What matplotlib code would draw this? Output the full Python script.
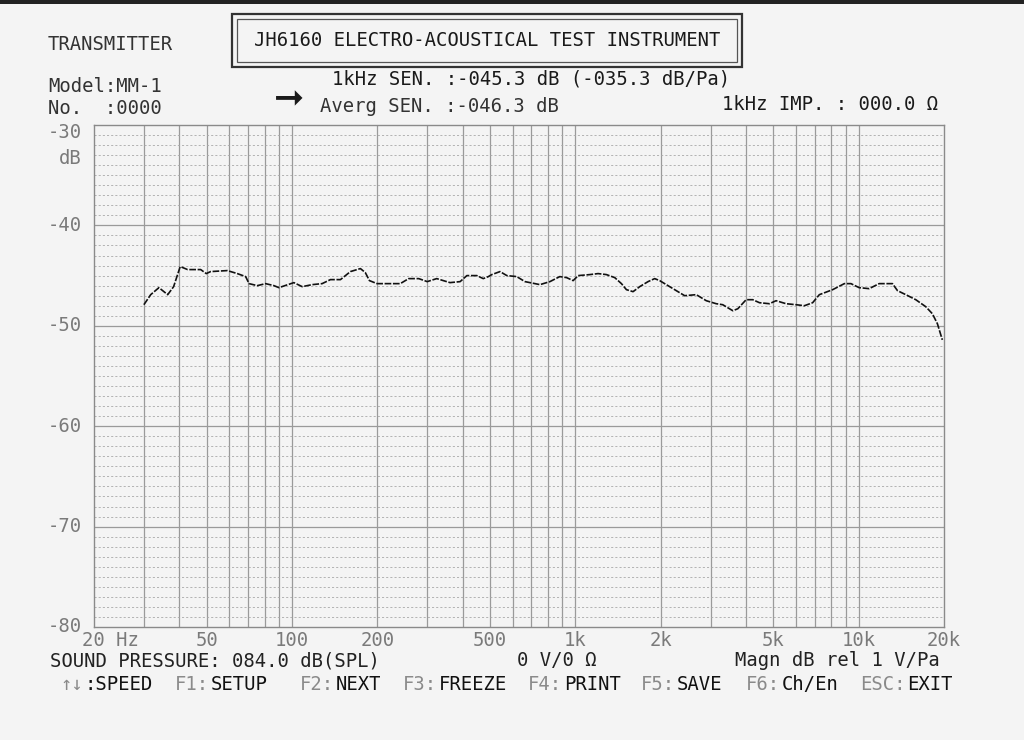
import numpy as np
import matplotlib.pyplot as plt
from matplotlib.patches import Rectangle

W, H = 1024, 740

freq_hz = [30, 31.7, 33.9, 36.4, 38.2, 40.3, 42.8, 47.6, 49.8, 51.6, 59.1, 64.1,
           68.6, 70.5, 75.4, 80.7, 86.3, 89.9, 101.5, 108.6, 117.8, 127.7, 136.6,
           148.2, 160.7, 174.3, 181.4, 187.6, 199.5, 216, 241, 258, 280, 300, 324,
           361, 392, 414, 449, 473, 493, 507, 542, 573, 621, 664, 750, 813, 881,
           931, 982, 1023, 1125, 1203, 1287, 1377, 1454, 1514, 1598, 1687, 1805,
           1905, 1984, 2094, 2271, 2430, 2671, 2897, 3141, 3312, 3596, 3744, 4006,
           4228, 4464, 4840, 5109, 5542, 6013, 6433, 6877, 7262, 8093, 8897, 9389,
           10036, 10886, 11807, 13156, 13705, 14663, 15900, 17250, 18200, 18960,
           19730]
level_db = [-47.9, -46.9, -46.2, -46.9, -46.1, -44.1, -44.4, -44.4, -44.8, -44.6,
            -44.5, -44.8, -45.1, -45.8, -46.0, -45.8, -46.0, -46.2, -45.7, -46.1,
            -45.9, -45.8, -45.4, -45.4, -44.6, -44.3, -44.7, -45.5, -45.8, -45.8,
            -45.8, -45.3, -45.3, -45.6, -45.3, -45.7, -45.6, -45.0, -45.0, -45.3,
            -45.1, -44.9, -44.6, -45.0, -45.1, -45.6, -45.9, -45.6, -45.1, -45.2,
            -45.5, -45.0, -44.9, -44.8, -44.9, -45.2, -45.8, -46.4, -46.6, -46.1,
            -45.6, -45.3, -45.5, -45.9, -46.5, -47.0, -46.9, -47.5, -47.8, -47.9,
            -48.5, -48.3, -47.4, -47.4, -47.7, -47.8, -47.5, -47.8, -47.9, -48.0,
            -47.7, -46.9, -46.4, -45.8, -45.8, -46.2, -46.3, -45.8, -45.8, -46.5,
            -46.9, -47.4, -48.1, -48.8, -49.8, -51.4]

x_tick_freqs = [20, 50, 100, 200, 500, 1000, 2000, 5000, 10000, 20000]
x_tick_labels = ['20 Hz', '50', '100', '200', '500', '1k', '2k', '5k', '10k', '20k']
y_tick_vals = [-30, -40, -50, -60, -70, -80]

FONT = 'DejaVu Sans Mono'
FS = 13.6
PAPER = '#f4f4f4'
GREY = '#7a7a7a'
INK = '#1a1a1a'


def px(x, y):
    # pixel position on the page -> figure fraction
    return x / W, 1 - y / H


fig = plt.figure(figsize=(W / 100, H / 100), dpi=100, facecolor=PAPER)
ax = fig.add_axes([94 / W, 1 - 627 / H, (944 - 94) / W, (627 - 125) / H])
ax.set_facecolor(PAPER)
ax.set_xscale('log')
ax.set_xlim(20, 20000)
ax.set_ylim(-80, -30)

# grid: every log step vertically, 10 dB solid + 1 dB dashed horizontally
grid_freqs = [d * m for d in (10, 100, 1000, 10000) for m in range(1, 10)
              if 20 < d * m < 20000]
for f in grid_freqs:
    ax.axvline(f, color='#9a9a9a', lw=0.9, zorder=1)
for v in np.arange(-79, -30):
    if v % 10 == 0:
        ax.axhline(v, color='#9a9a9a', lw=0.9, zorder=1)
    else:
        ax.axhline(v, color='#a8a8a8', lw=0.6, ls=(0, (2.5, 2.5)), zorder=1)
for s in ax.spines.values():
    s.set_color('#8a8a8a')
    s.set_linewidth(1.0)
ax.set_xticks([])
ax.set_yticks([])
ax.minorticks_off()

ax.plot(freq_hz, level_db, color='#111111', lw=1.2, ls=(0, (4, 1)), zorder=3)

# tick labels
xtr = ax.get_xaxis_transform()
for f, lab in zip(x_tick_freqs, x_tick_labels):
    if lab.endswith('Hz'):
        # the unit trails to the right, the number sits on the line
        ax.text(f * 0.91, -0.026, lab, transform=xtr, ha='left', va='center',
                color=GREY, family=FONT, fontsize=FS, clip_on=False)
    else:
        ax.text(f, -0.026, lab, transform=xtr, ha='center', va='center', color=GREY,
                family=FONT, fontsize=FS, clip_on=False)
ytr = ax.get_yaxis_transform()
for v in y_tick_vals:
    yy = v - 0.7 if v == -30 else v
    ax.text(-0.014, yy, '%d' % v, transform=ytr, ha='right', va='center',
            color=GREY, family=FONT, fontsize=FS, clip_on=False)
fig.text(*px(82, 158), 'dB', ha='right', va='center', color=GREY, family=FONT, fontsize=FS)

# header
def t(x, y, s, color=INK, **kw):
    kw.setdefault('family', FONT)
    kw.setdefault('fontsize', FS)
    fig.text(*px(x, y), s, ha='left', va='center', color=color, **kw)

t(48, 44, 'TRANSMITTER', color='#333333')
t(48, 86, 'Model:MM-1', color='#333333')
t(48, 109, 'No.  :0000', color='#333333')
t(332, 79, '1kHz SEN. :-045.3 dB (-035.3 dB/Pa)')
t(320, 106, 'Averg SEN. :-046.3 dB', color='#333333')
t(722, 105, '1kHz IMP. : 000.0 Ω')
t(274, 99, '➞', family='DejaVu Sans', fontsize=26)

fig.add_artist(Rectangle(px(232, 67), 510 / W, 53 / H, transform=fig.transFigure,
                         fill=False, ec='#333333', lw=1.6))
fig.add_artist(Rectangle(px(237, 62), 500 / W, 43 / H, transform=fig.transFigure,
                         fill=False, ec='#555555', lw=0.9))
fig.text(*px(487, 41), 'JH6160 ELECTRO-ACOUSTICAL TEST INSTRUMENT', ha='center',
         va='center', color=INK, family=FONT, fontsize=FS)

# footer
t(50, 661, 'SOUND PRESSURE: 084.0 dB(SPL)', color='#222222')
t(517, 661, '0 V/0 Ω', color='#222222')
t(735, 661, 'Magn dB rel 1 V/Pa', color='#222222')

keys = [(60, '↑↓', ':SPEED'), (175, 'F1:', 'SETUP'), (300, 'F2:', 'NEXT'),
        (403, 'F3:', 'FREEZE'), (528, 'F4:', 'PRINT'), (641, 'F5:', 'SAVE'),
        (746, 'F6:', 'Ch/En'), (860, 'ESC:', 'EXIT')]
for x, pre, suf in keys:
    t(x, 684, pre, color='#8a8a8a')
    t(x + len(pre) * 11.37 + 2, 684, suf, color='#111111')

# dark scanner edge at the top
fig.add_artist(Rectangle((0, 1 - 4 / H), 1, 4 / H, transform=fig.transFigure,
                         color='#222222', lw=0))

fig.savefig('out.png', dpi=100, facecolor=PAPER)
